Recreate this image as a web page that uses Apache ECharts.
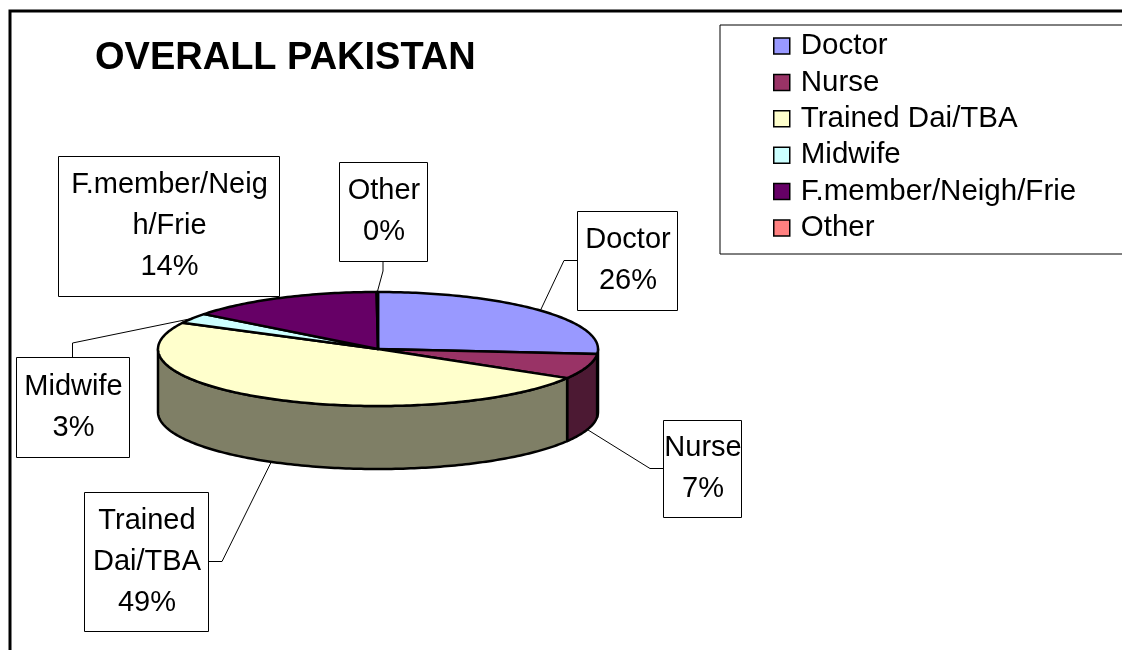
<!DOCTYPE html>
<html>
<head>
<meta charset="utf-8">
<title>OVERALL PAKISTAN</title>
<script src="https://cdn.jsdelivr.net/npm/echarts@6/dist/echarts.min.js"></script>
<style>
  html, body { margin: 0; padding: 0; background: #fff; }
  #main { width: 1122px; height: 650px; }
</style>
</head>
<body>
<div id="main"></div>
<script>
// categories and shares (percent of deliveries)
var categories = ['Doctor', 'Nurse', 'Trained Dai/TBA', 'Midwife', 'F.member/Neigh/Frie', 'Other'];
var shares = [26.4, 7.1, 49.0, 2.9, 14.4, 0.1];
// label text as wrapped in the chart boxes
var labelNames = ['Doctor', 'Nurse', 'Trained\nDai/TBA', 'Midwife', 'F.member/Neig\nh/Frie', 'Other'];

var topColors = ['#9999FF', '#993366', '#FFFFCC', '#CCFFFF', '#660066', '#FF8080'];
var FONT = '"Liberation Sans", Arial, sans-serif';

// 3d pie geometry
var cx = 378, cy = 349, rx = 220, ry = 57, depth = 63;

// label boxes (x, y, w, h, side of leader)
var labelBoxes = [
  { x: 577, y: 211, w: 100, h: 99, side: 'left' },
  { x: 663, y: 420, w: 78, h: 97, side: 'left' },
  { x: 84, y: 492, w: 124, h: 139, side: 'right' },
  { x: 16, y: 357, w: 113, h: 100, side: 'top' },
  { x: 58, y: 156, w: 221, h: 140, side: null },
  { x: 339, y: 162, w: 88, h: 99, side: 'bottom' }
];

var total = shares.reduce(function (a, b) { return a + b; }, 0);
var before = [];
shares.reduce(function (acc, v, i) { before[i] = acc; return acc + v; }, 0);

function darken(hex) {
  var n = parseInt(hex.slice(1), 16);
  var r = (n >> 16) >> 1, g = ((n >> 8) & 255) >> 1, b = (n & 255) >> 1;
  return 'rgb(' + r + ',' + g + ',' + b + ')';
}

function pt(a, dy) {
  var t = a * Math.PI / 180;
  return [cx + rx * Math.cos(t), cy - ry * Math.sin(t) + (dy || 0)];
}

function arc(from, to, dy) {
  var pts = [];
  var n = Math.max(2, Math.ceil(Math.abs(from - to)));
  for (var k = 0; k <= n; k++) {
    pts.push(pt(from + (to - from) * k / n, dy));
  }
  return pts;
}

function sliceRender(idx) {
  return function (params, api) {
    var v = api.value(0);
    var start = 90 - 360 * before[idx] / total;
    var end = start - 360 * v / total;
    var children = [];

    // outer wall, only the front half shows
    var hi = Math.min(start, 0), lo = Math.max(end, -180);
    if (hi > lo) {
      var wall = arc(hi, lo, 0).concat(arc(lo, hi, depth));
      children.push({
        type: 'polygon',
        shape: { points: wall },
        style: { fill: darken(topColors[idx]), stroke: '#000', lineWidth: 2.5, lineJoin: 'round' }
      });
    }
    // top face
    var face = [[cx, cy]].concat(arc(start, end, 0));
    children.push({
      type: 'polygon',
      shape: { points: face },
      style: { fill: topColors[idx], stroke: '#000', lineWidth: 2.5, lineJoin: 'round' }
    });

    // label box + leader
    var box = labelBoxes[idx];
    var mid = (start + end) / 2;
    var onFront = Math.sin(mid * Math.PI / 180) < 0;
    var target = pt(mid, onFront ? depth : 0);
    if (box.side) {
      var a, e;
      if (box.side === 'left') { a = [box.x, box.y + box.h / 2]; e = [a[0] - 13, a[1]]; }
      if (box.side === 'right') { a = [box.x + box.w, box.y + box.h / 2]; e = [a[0] + 14, a[1]]; }
      if (box.side === 'top') { a = [box.x + box.w / 2, box.y]; e = [a[0], a[1] - 14]; }
      if (box.side === 'bottom') { a = [box.x + box.w / 2, box.y + box.h]; e = [a[0], a[1] + 10]; }
      children.push({
        type: 'polyline',
        shape: { points: [a, e, target] },
        style: { stroke: '#000', lineWidth: 1, fill: null }
      });
    }
    var pct = Math.round(v / total * 100) + '%';
    children.push({
      type: 'rect',
      shape: { x: box.x + 0.5, y: box.y + 0.5, width: box.w, height: box.h },
      style: { fill: '#fff', stroke: '#000', lineWidth: 1 }
    });
    children.push({
      type: 'text',
      style: {
        text: labelNames[idx] + '\n' + pct,
        x: box.x + box.w / 2 + 1,
        y: box.y + box.h / 2,
        align: 'center',
        verticalAlign: 'middle',
        fontSize: 29,
        fontFamily: FONT,
        lineHeight: 41,
        fill: '#000'
      }
    });
    return { type: 'group', children: children };
  };
}

var chart = echarts.init(document.getElementById('main'));

var series = categories.map(function (name, i) {
  return {
    name: name,
    type: 'custom',
    coordinateSystem: 'none',
    itemStyle: { color: topColors[i] },
    renderItem: sliceRender(i),
    data: [[shares[i]]]
  };
});

var option = {
  animation: false,
  backgroundColor: '#fff',
  title: {
    text: 'OVERALL PAKISTAN',
    left: 95,
    top: 40,
    padding: 0,
    textStyle: { fontSize: 38, fontWeight: 'bold', fontFamily: FONT, color: '#000' }
  },
  legend: {
    orient: 'vertical',
    left: 720,
    top: 25,
    padding: [6, 60, 11, 53],
    backgroundColor: '#fff',
    borderColor: '#000',
    borderWidth: 1,
    icon: 'rect',
    itemWidth: 16,
    itemHeight: 16,
    itemGap: 6.4,
    selectedMode: false,
    itemStyle: { borderColor: '#000', borderWidth: 1.5 },
    textStyle: { fontSize: 29.5, lineHeight: 30, fontFamily: FONT, color: '#000', padding: [0, 0, 0, 6] },
    data: categories
  },
  graphic: [{
    type: 'rect',
    shape: { x: 10, y: 11, width: 1300, height: 800 },
    style: { fill: null, stroke: '#000', lineWidth: 3 },
    silent: true
  }],
  series: series
};

chart.setOption(option);
</script>
</body>
</html>
